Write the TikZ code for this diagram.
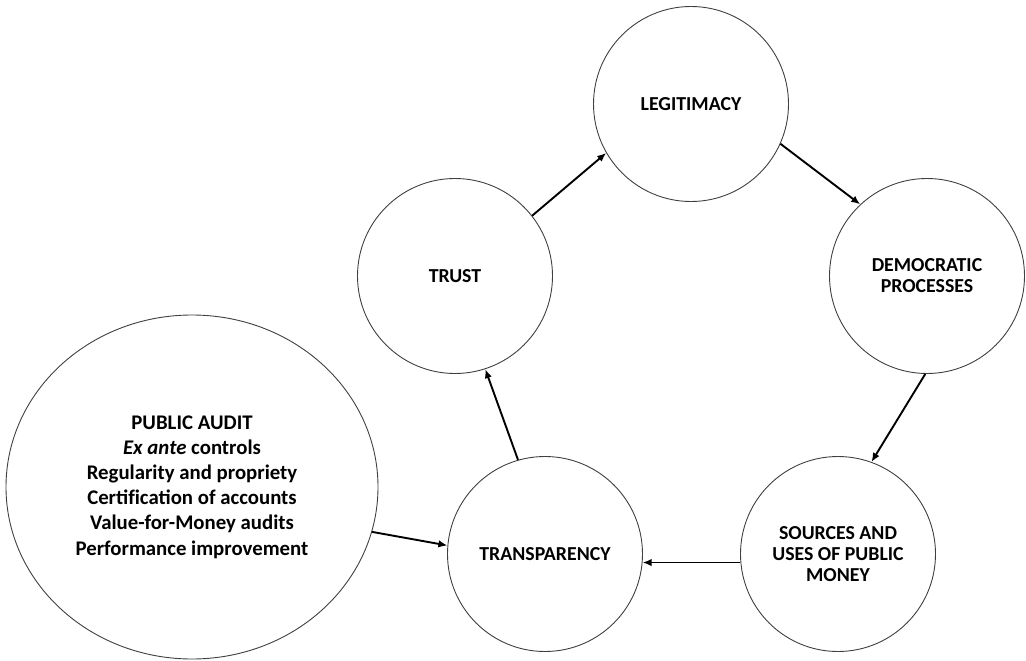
\documentclass[tikz,border=0pt]{standalone}
\usepackage{fontspec}
\setmainfont{Carlito}
\usetikzlibrary{shapes.geometric,arrows.meta}
\begin{document}
\begin{tikzpicture}[x=1pt,y=-1pt,
  ring/.style={circle,draw=black!75,line width=0.9pt,minimum size=195pt,inner sep=0pt,
    align=center,font=\fontsize{19.8}{21}\selectfont\bfseries},
  bigring/.style={ellipse,draw=black!75,line width=0.9pt,minimum width=372pt,minimum height=344pt,
    inner sep=0pt,align=center,font=\fontsize{20.8}{25.2}\selectfont\bfseries},
  flow/.style={line width=1.9pt,-{Latex[length=9pt,width=7.5pt]}}]
\useasboundingbox (0,0) rectangle (1026,661);
\node[ring] (leg) at (691,104) {LEGITIMACY};
\node[ring] (trust) at (455,276) {TRUST};
\node[ring] (dem) at (927,276) {DEMOCRATIC\\PROCESSES};
\node[ring] (src) at (838,554) {SOURCES AND\\USES OF PUBLIC\\MONEY};
\node[ring] (tra) at (545,554) {TRANSPARENCY};
\node[bigring] (pa) at (192,487) {PUBLIC AUDIT\\\textit{Ex ante} controls\\Regularity and propriety\\Certif\/ication of accounts\\Value-for-Money audits\\Performance improvement};
\draw[flow] (trust.38) -- (leg.210);
\draw[flow] (leg.336) -- (dem.133);
\draw[flow] (dem.269) -- (src.70);
\draw[flow] (src.185) -- (tra.355);
\draw[flow] (tra.106) -- (trust.288);
\draw[flow] (pa.-14) -- (tra.175);
\end{tikzpicture}
\end{document}
